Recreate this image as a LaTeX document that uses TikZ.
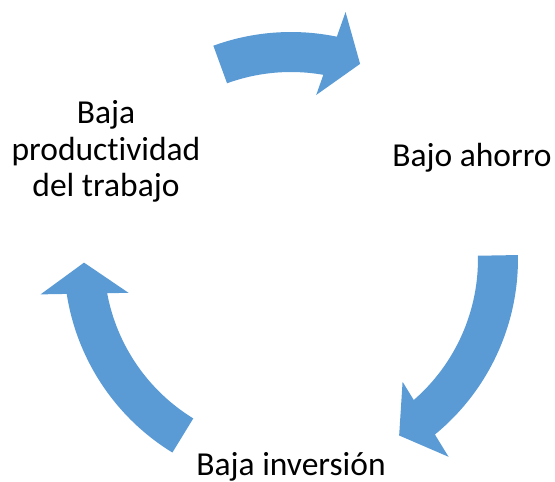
\documentclass[tikz,border=0pt]{standalone}
\usepackage{fontspec}
\setmainfont{Carlito}[Ligatures=NoCommon]
\usepackage{tikz}
\usetikzlibrary{positioning}

\definecolor{cycleblue}{HTML}{5B9BD5}

\begin{document}
\begin{tikzpicture}[
        x=1pt, y=1pt,
        stage/.style={inner sep=0pt, anchor=base, align=center,
          font=\fontsize{33.5}{36.5}\selectfont},
        cyclearrow/.style={fill=cycleblue, draw=none}
      ]
        \useasboundingbox (-291,-223) rectangle (264,259);
        % the three stages of the cycle
        \node[stage] (ahorro) at (181,92) {Bajo ahorro};
        \node[stage] (inversion) at (0,-216) {Baja inversi\'on};
        \node[stage] (productividad) at (-185,62) {Baja\\productividad\\del trabajo};
        % curved arrows, tail angle / tip angle
        \foreach \tail/\tip in {110/70.5, 1/-58.5, 238.5/181} {
          \begin{scope}[rotate=\tip]
            \fill[cyclearrow] (207,0) -- (251,31) -- (7.85:227)
              arc[start angle=7.85, end angle={\tail-\tip}, radius=227]
              -- ({\tail-\tip}:187)
              arc[start angle={\tail-\tip}, end angle=9.54, radius=187]
              -- (163,31) -- cycle;
          \end{scope}
        }
      \end{tikzpicture}
\end{document}
